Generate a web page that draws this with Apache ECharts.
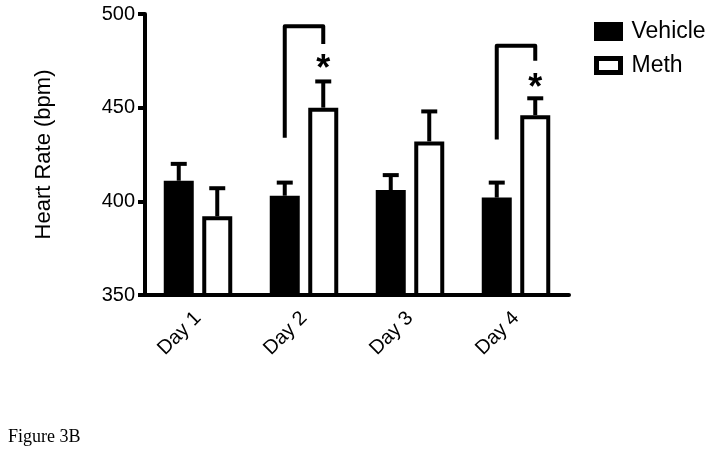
<!DOCTYPE html>
<html>
<head>
<meta charset="utf-8">
<script src="https://cdn.jsdelivr.net/npm/echarts@6/dist/echarts.min.js"></script>
<style>
html,body{margin:0;padding:0;background:#fff;}
#chart{width:714px;height:460px;}
</style>
</head>
<body>
<div id="chart"></div>
<script>
const categories = ['Day 1', 'Day 2', 'Day 3', 'Day 4'];
const vehicleMean = [411, 403, 406, 402];
const vehicleErr = [9, 7, 8, 8];
const methMean = [392, 450, 432, 446];
const methErr = [15, 14, 16, 9];
const yTicks = [350, 400, 450, 500];
// brackets: [categoryIndex, leftBottom, top, rightBottom]
const brackets = [[1, 434, 493.5, 484], [3, 433, 483, 475]];
// significance stars: [categoryIndex, value]
const stars = [[1, 475], [3, 464.5]];

const BAR_W = 30, BORDER = 4, GAP = 8.5;
const OFF = (BAR_W + GAP) / 2;
const FONT = '"Liberation Sans", Arial, sans-serif';

const chart = echarts.init(document.getElementById('chart'));

const errData = [];
vehicleMean.forEach((m, i) => errData.push([i, m, m + vehicleErr[i], -1]));
methMean.forEach((m, i) => errData.push([i, m, m + methErr[i], 1]));

chart.setOption({
  animation: false,
  backgroundColor: '#fff',
  grid: { left: 145, right: 145, top: 14, bottom: 165, containLabel: false },
  legend: {
    left: 589, top: 15, orient: 'vertical', icon: 'rect',
    itemWidth: 24, itemHeight: 14, itemGap: 11,
    textStyle: { fontFamily: FONT, fontSize: 23, color: '#000', padding: [0, 0, 0, 6] },
    data: [
      { name: 'Vehicle', itemStyle: { color: '#000', borderColor: '#000', borderWidth: 5 } },
      { name: 'Meth', itemStyle: { color: '#fff', borderColor: '#000', borderWidth: 5 } }
    ]
  },
  graphic: [{
    type: 'text', left: 8, top: 428,
    style: { text: 'Figure 3B', font: '18px "Liberation Serif", "Times New Roman", serif', fill: '#000' }
  }],
  xAxis: {
    type: 'category', data: categories,
    axisLine: { lineStyle: { color: '#000', width: 4 } },
    axisTick: { alignWithLabel: true, length: 7, lineStyle: { color: '#000', width: 4 } },
    axisLabel: { rotate: 45, fontSize: 20, fontFamily: FONT, color: '#000', margin: 20 },
    splitLine: { show: false }
  },
  yAxis: {
    type: 'value', min: 350, max: 500, interval: 50,
    name: 'Heart Rate (bpm)', nameLocation: 'middle', nameGap: 90,
    nameTextStyle: { fontFamily: FONT, fontSize: 22, color: '#000' },
    axisLine: { show: true, lineStyle: { color: '#000', width: 4 } },
    axisTick: { show: true, length: 7, lineStyle: { color: '#000', width: 4 } },
    axisLabel: { fontSize: 20, fontFamily: FONT, color: '#000', margin: 10,
      formatter: v => yTicks.includes(v) ? String(v) : '' },
    splitLine: { show: false }
  },
  series: [
    {
      name: 'Vehicle', type: 'bar', data: vehicleMean, barWidth: BAR_W,
      barGap: (GAP / BAR_W * 100) + '%',
      itemStyle: { color: '#000', borderColor: '#000', borderWidth: BORDER }
    },
    {
      name: 'Meth', type: 'bar', data: methMean, barWidth: BAR_W,
      itemStyle: { color: '#fff', borderColor: '#000', borderWidth: BORDER }
    },
    {
      type: 'custom', name: 'err', data: errData, z: 1,
      renderItem: (params, api) => {
        const dir = api.value(3);
        const top = api.coord([api.value(0), api.value(2)]);
        const base = api.coord([api.value(0), api.value(1)]);
        const x = top[0] + dir * OFF;
        return {
          type: 'group',
          children: [
            { type: 'line', shape: { x1: x, y1: base[1], x2: x, y2: top[1] }, style: { stroke: '#000', lineWidth: 4 } },
            { type: 'line', shape: { x1: x - 8, y1: top[1], x2: x + 8, y2: top[1] }, style: { stroke: '#000', lineWidth: 4 } }
          ]
        };
      }
    },
    {
      type: 'custom', name: 'brackets', data: brackets, z: 3,
      renderItem: (params, api) => {
        const i = api.value(0);
        const l = api.coord([i, api.value(1)]);
        const t = api.coord([i, api.value(2)]);
        const r = api.coord([i, api.value(3)]);
        const xl = l[0] - OFF, xr = l[0] + OFF;
        return {
          type: 'polyline',
          shape: { points: [[xl, l[1]], [xl, t[1]], [xr, t[1]], [xr, r[1]]] },
          style: { stroke: '#000', lineWidth: 4, fill: null, lineJoin: 'round' }
        };
      }
    },
    {
      type: 'custom', name: 'stars', data: stars, z: 3,
      renderItem: (params, api) => {
        const p = api.coord([api.value(0), api.value(1)]);
        return {
          type: 'text', x: p[0] + OFF, y: p[1] - 9,
          style: { text: '*', font: 'bold 36px ' + FONT, fill: '#000', align: 'center', verticalAlign: 'top' }
        };
      }
    }
  ]
});
</script>
</body>
</html>
